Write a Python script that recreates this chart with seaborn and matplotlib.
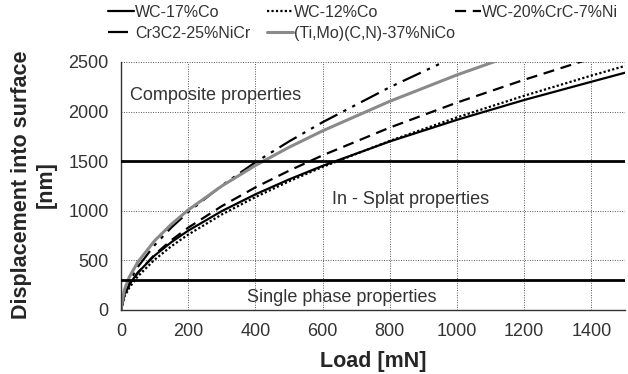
import matplotlib
matplotlib.use("Agg")
import matplotlib.pyplot as plt
import seaborn as sns
import pandas as pd

load = [0, 10, 25, 50, 100, 150, 200, 300, 400, 500, 600, 800, 1000, 1200, 1400, 1500]
wc17co = [0, 157, 259, 377, 549, 684, 800, 997, 1166, 1316, 1453, 1699, 1917, 2117, 2301, 2392]
wc12co = [0, 133, 226, 339, 507, 643, 760, 963, 1138, 1297, 1442, 1705, 1942, 2160, 2363, 2460]
wc20crc = [0, 149, 252, 375, 558, 704, 830, 1047, 1236, 1404, 1559, 1839, 2091, 2321, 2536, 2639]
load_b = [0, 10, 25, 50, 100, 150, 200, 300, 400, 500, 600, 800, 1000, 1200]
cr3c2 = [0, 167, 288, 434, 654, 832, 987, 1255, 1489, 1699, 1893, 2246, 2563, 2856]
timo = [0, 205, 334, 483, 698, 865, 1008, 1250, 1457, 1640, 1806, 2104, 2370, 2610]

names = ["WC-17%Co", "WC-12%Co", "WC-20%CrC-7%Ni", "Cr3C2-25%NiCr", "(Ti,Mo)(C,N)-37%NiCo"]
boundaries = [1500, 300]
region_labels = ["Composite properties", "In - Splat properties", "Single phase properties"]

sns.set_theme(style="white")
plt.rcParams['font.family'] = ['Liberation Sans', 'DejaVu Sans']

W, H = 628, 374
fig = plt.figure(figsize=(W / 100, H / 100), dpi=100)
ax = fig.add_axes([121 / W, 1 - 310 / H, (625 - 121) / W, (310 - 62) / H])

series = [
    (load, wc17co, dict(color="black", lw=1.6, linestyle="-")),
    (load, wc12co, dict(color="black", lw=1.6, linestyle=(0, (1, 1)))),
    (load, wc20crc, dict(color="black", lw=1.6, linestyle=(0, (5, 3)))),
    (load_b, cr3c2, dict(color="black", lw=1.6, linestyle=(0, (9, 3, 1.5, 3, 1.5, 3)))),
    (load_b, timo, dict(color="#8a8a8a", lw=2.2, linestyle="-")),
]
for (xs, ys, st), nm in zip(series, names):
    df = pd.DataFrame({"x": xs, "y": ys})
    sns.lineplot(data=df, x="x", y="y", ax=ax, label=nm, **st)

for b in boundaries:
    ax.axhline(b, color="black", lw=2.0, zorder=3)

ax.set_xlim(0, 1500)
ax.set_ylim(0, 2500)
ax.set_xticks(range(0, 1401, 200))
ax.set_yticks(range(0, 2501, 500))
ax.grid(True, color="#555555", linestyle=(0, (1, 1.5)), lw=0.7)
ax.tick_params(axis="both", labelsize=13, colors="#333333", length=3, width=0.8,
               direction="out", pad=6)
ax.tick_params(axis="both", labelcolor="#333333")
for s in ["top", "right"]:
    ax.spines[s].set_visible(False)
for s in ["left", "bottom"]:
    ax.spines[s].set_color("#333333")
    ax.spines[s].set_linewidth(1.0)

tc = "#333333"
ax.text(27, 2167, region_labels[0], fontsize=13, color=tc, va="center")
ax.text(863, 1110, region_labels[1], fontsize=13, color=tc, va="center", ha="center")
ax.text(658, 130, region_labels[2], fontsize=13, color=tc, va="center", ha="center")

ax.set_xlabel("Load [mN]", fontsize=15.5, fontweight="bold", labelpad=8)
ax.set_ylabel("Displacement into surface\n[nm]", fontsize=15.5, fontweight="bold",
              linespacing=1.2)
ax.yaxis.set_label_coords(-0.128, 0.504)

handles, labels = ax.get_legend_handles_labels()
ax.get_legend().remove()
cols = [([0, 3], 108), ([1, 4], 267), ([2], 455)]
for idxs, xpx in cols:
    leg = fig.legend([handles[i] for i in idxs], [labels[i] for i in idxs],
                     loc="upper left", bbox_to_anchor=(xpx / W, 1 - 5 / H),
                     frameon=False, fontsize=11.5, handlelength=1.6,
                     handletextpad=0.1, labelspacing=0.35, borderpad=0,
                     borderaxespad=0)
    for t in leg.get_texts():
        t.set_color("#333333")

fig.savefig("out.png", dpi=100)
